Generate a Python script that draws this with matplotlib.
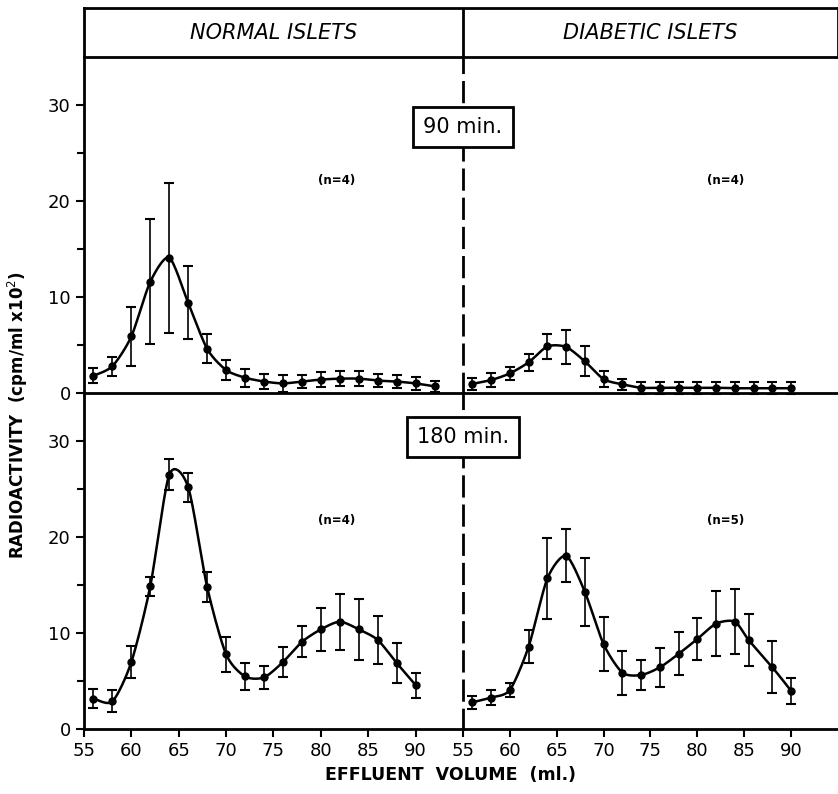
import numpy as np
import matplotlib
matplotlib.use('Agg')
import matplotlib.pyplot as plt

# effluent volume (ml) and radioactivity (cpm/ml x 10^2), mean +/- error
vol_90n = [56, 58, 60, 62, 64, 66, 68, 70, 72, 74, 76, 78, 80, 82, 84, 86, 88, 90, 92]
act_90n = [1.8, 2.8, 5.9, 11.6, 14.1, 9.4, 4.6, 2.4, 1.6, 1.2, 1.0, 1.2, 1.4, 1.5, 1.5, 1.3, 1.2, 1.0, 0.7]
err_90n = [0.8, 1.0, 3.1, 6.5, 7.8, 3.8, 1.5, 1.0, 0.95, 0.75, 0.9, 0.7, 0.75, 0.75, 0.75, 0.7, 0.7, 0.65, 0.55]

vol_90d = [56, 58, 60, 62, 64, 66, 68, 70, 72, 74, 76, 78, 80, 82, 84, 86, 88, 90]
act_90d = [0.95, 1.35, 2.05, 3.2, 4.85, 4.8, 3.3, 1.45, 0.9, 0.55, 0.55, 0.55, 0.55, 0.55, 0.5, 0.5, 0.5, 0.5]
err_90d = [0.6, 0.7, 0.7, 0.9, 1.3, 1.8, 1.55, 0.8, 0.6, 0.65, 0.65, 0.65, 0.65, 0.65, 0.65, 0.65, 0.65, 0.65]

vol_180n = [56, 58, 60, 62, 64, 66, 68, 70, 72, 74, 76, 78, 80, 82, 84, 86, 88, 90]
act_180n = [3.2, 2.9, 7.0, 14.9, 26.5, 25.2, 14.8, 7.8, 5.5, 5.4, 7.0, 9.1, 10.4, 11.2, 10.4, 9.3, 6.9, 4.6]
err_180n = [0.95, 1.15, 1.7, 1.0, 1.6, 1.5, 1.6, 1.8, 1.4, 1.2, 1.55, 1.6, 2.25, 2.9, 3.15, 2.5, 2.1, 1.3]

vol_180d = [56, 58, 60, 62, 64, 66, 68, 70, 72, 74, 76, 78, 80, 82, 84, 85.5, 88, 90]
act_180d = [2.8, 3.3, 4.1, 8.6, 15.7, 18.05, 14.3, 8.85, 5.9, 5.65, 6.45, 7.85, 9.4, 11.0, 11.2, 9.25, 6.45, 4.0]
err_180d = [0.65, 0.8, 0.75, 1.7, 4.25, 2.75, 3.5, 2.8, 2.3, 1.55, 2.0, 2.25, 2.2, 3.4, 3.4, 2.7, 2.7, 1.35]

n_labels = [["(n=4)", "(n=4)"], ["(n=4)", "(n=5)"]]
time_labels = ["90 min.", "180 min."]
group_labels = ["NORMAL ISLETS", "DIABETIC ISLETS"]
x_ticks = [55, 60, 65, 70, 75, 80, 85, 90]


def smooth(x, y, n=16, s=0.38):
    # cardinal spline through the points (only for drawing the line)
    p = np.column_stack([x, y]).astype(float)
    p = np.vstack([p[0], p, p[-1]])
    t = np.linspace(0, 1, n, endpoint=False)[:, None]
    h00 = 2 * t**3 - 3 * t**2 + 1
    h10 = t**3 - 2 * t**2 + t
    h01 = -2 * t**3 + 3 * t**2
    h11 = t**3 - t**2
    out = []
    for i in range(1, len(p) - 2):
        p0, p1, p2, p3 = p[i - 1], p[i], p[i + 1], p[i + 2]
        m1 = s * (p2 - p0)
        m2 = s * (p3 - p1)
        out.append(h00 * p1 + h10 * m1 + h01 * p2 + h11 * m2)
    out.append(p[-2][None, :])
    out = np.vstack(out)
    return out[:, 0], out[:, 1]


fig = plt.figure(figsize=(8.38, 7.94), dpi=100)
L, M, R = 0.1002, 0.5525, 1.0
rows = [(0.505, 0.928 - 0.505), (0.0815, 0.505 - 0.0815)]
data = [[(vol_90n, act_90n, err_90n), (vol_90d, act_90d, err_90d)],
        [(vol_180n, act_180n, err_180n), (vol_180d, act_180d, err_180d)]]

for r, (y0, h) in enumerate(rows):
    for c in range(2):
        x0 = L if c == 0 else M
        w = (M - L) if c == 0 else (R - M)
        ax = fig.add_axes([x0, y0, w, h])
        ax.set_xlim(55, 95)
        ax.set_ylim(0, 35)
        ax.patch.set_alpha(0)
        for s in ['top', 'right']:
            ax.spines[s].set_visible(False)
        ax.spines['bottom'].set_linewidth(2)
        ax.spines['left'].set_linewidth(2)
        if c == 1:
            ax.spines['left'].set_linestyle((0, (7, 3.5)))
            ax.set_yticks([])
        else:
            ax.set_yticks([0, 10, 20, 30])
            ax.set_yticks([5, 15, 25], minor=True)
            ax.tick_params(axis='y', which='major', length=6, width=1.5, labelsize=13)
            ax.tick_params(axis='y', which='minor', length=5, width=1.5)
        if r == 1:
            ax.set_xticks(x_ticks)
            ax.tick_params(axis='x', length=6, width=1.5, labelsize=13, pad=3)
        else:
            ax.set_xticks([])

        xv, yv, ev = data[r][c]
        sx, sy = smooth(xv, yv)
        ax.plot(sx, sy, color='black', lw=1.8, zorder=3)
        ax.errorbar(xv, yv, yerr=ev, fmt='o', color='black', ms=5, elinewidth=1.2,
                    capsize=3.5, capthick=1.5, zorder=4, clip_on=False)

        nx = 0.667 if c == 0 else 0.70
        ny = 0.634 if r == 0 else 0.622
        ax.text(nx, ny, n_labels[r][c], transform=ax.transAxes, ha='center', va='center',
                fontsize=8.5, fontweight='bold')

# header box
axh = fig.add_axes([L, 0.928, R - L, 0.062])
axh.set_xlim(0, 1)
axh.set_ylim(0, 1)
axh.set_xticks([])
axh.set_yticks([])
for s in axh.spines.values():
    s.set_linewidth(2)
mid = (M - L) / (R - L)
axh.axvline(mid, color='black', lw=2)
axh.text(mid / 2, 0.5, group_labels[0], ha='center', va='center', fontsize=15, style='italic')
axh.text((mid + 1) / 2, 0.5, group_labels[1], ha='center', va='center', fontsize=15, style='italic')

# time boxes over the dashed divider
for lab, yy in zip(time_labels, [0.840, 0.4496]):
    fig.text(M, yy, lab, ha='center', va='center', fontsize=15, zorder=10,
             bbox=dict(boxstyle='square,pad=0.5', fc='white', ec='black', lw=2))

fig.text(0.022, 0.477, "RADIOACTIVITY  (cpm/ml x10$^2$)", rotation=90, ha='center',
         va='center', fontsize=12, fontweight='bold')
fig.text(0.537, 0.024, "EFFLUENT  VOLUME  (ml.)", ha='center', va='center', fontsize=12.5,
         fontweight='bold')

fig.savefig('out.png', dpi=100)
